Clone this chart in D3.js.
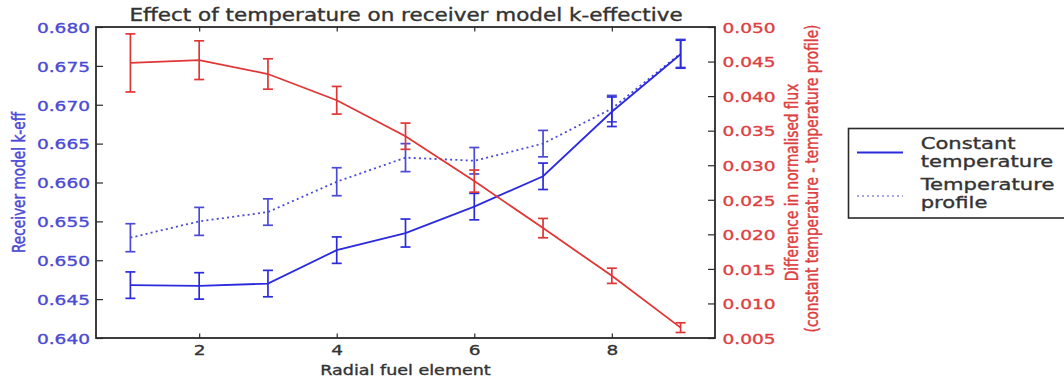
<!DOCTYPE html>
<html><head><meta charset="utf-8">
<script src="https://cdn.jsdelivr.net/npm/d3@7"></script>
<style>body{margin:0;background:#fff}svg{display:block}text{font-family:"DejaVu Sans",sans-serif;stroke-width:0.35px}</style>
</head><body>
<svg id="c" width="1064" height="383"></svg>
<script>
// ---- data ----
const elements = [1, 2, 3, 4, 5, 6, 7, 8, 9];
const kConstant = [0.6468, 0.6467, 0.6470, 0.6513, 0.6535, 0.6569, 0.6608, 0.6691, 0.6765];
const kConstantErr = [0.0017, 0.0017, 0.0017, 0.0017, 0.0018, 0.0017, 0.0017, 0.0019, 0.0018];
const kProfile = [0.6529, 0.6550, 0.6562, 0.6601, 0.6632, 0.6628, 0.6650, 0.6695, 0.6766];
const kProfileErr = [0.0018, 0.0018, 0.0017, 0.0018, 0.0018, 0.0017, 0.0017, 0.0017, 0.0018];
const fluxDiff = [0.0448, 0.0452, 0.0432, 0.0394, 0.0342, 0.0277, 0.0209, 0.0140, 0.0065];
const fluxDiffErr = [0.0042, 0.0028, 0.0022, 0.0020, 0.0019, 0.0016, 0.0014, 0.0011, 0.0007];
const xTicks = [2, 4, 6, 8];
const kTicks = [0.640, 0.645, 0.650, 0.655, 0.660, 0.665, 0.670, 0.675, 0.680];
const fluxTicks = [0.005, 0.010, 0.015, 0.020, 0.025, 0.030, 0.035, 0.040, 0.045, 0.050];
const seriesNames = ["Constant\ntemperature", "Temperature\nprofile"];

// ---- layout ----
const SX = 1.28;
const BLUE = "#2b2bdd", BLUE_T = "#4a4ad4", RED = "#e03636", RED_T = "#dd4040", DARK = "#2a2a2a";
const M = {l: 96, t: 27, r: 715, b: 338};
const svg = d3.select("#c");
const x = d3.scaleLinear().domain([0.5, 9.5]).range([M.l, M.r]);
const yK = d3.scaleLinear().domain([0.640, 0.680]).range([M.b, M.t]);
const yF = d3.scaleLinear().domain([0.005, 0.050]).range([M.b, M.t]);

function label(g, px, py, s, o) {
  return g.append("text")
    .attr("transform", `translate(${px},${py}) scale(${SX},1)${o.rot ? " rotate(-90)" : ""}`)
    .attr("text-anchor", o.anchor || "middle")
    .attr("font-size", o.size)
    .attr("fill", o.fill).attr("stroke", o.fill)
    .text(s);
}

// axes
const gB = svg.append("g").attr("transform", `translate(0,${M.b})`).attr("color", DARK)
  .call(d3.axisBottom(x).tickValues(xTicks).tickSize(-4.5).tickSizeOuter(0).tickFormat(d3.format("d")));
gB.selectAll("text").attr("y", null).attr("dy", null)
  .attr("transform", `translate(0,17) scale(${SX},1)`).attr("font-size", 14.5).attr("fill", "#333").attr("stroke", "#333").attr("font-family", null);
const gT = svg.append("g").attr("transform", `translate(0,${M.t})`).attr("color", DARK)
  .call(d3.axisTop(x).tickValues(xTicks).tickSize(-4.5).tickSizeOuter(0).tickFormat(""));
gT.selectAll("text").remove();
const gL = svg.append("g").attr("transform", `translate(${M.l},0)`).attr("color", DARK)
  .call(d3.axisLeft(yK).tickValues(kTicks).tickSize(-7).tickSizeOuter(0).tickFormat(d3.format(".3f")));
gL.selectAll("text").attr("x", null).attr("dy", null)
  .attr("transform", `translate(-6,5.3) scale(${SX},1)`).attr("font-size", 14.5).attr("fill", BLUE_T).attr("stroke", BLUE_T).attr("font-family", null);
const gR = svg.append("g").attr("transform", `translate(${M.r},0)`).attr("color", DARK)
  .call(d3.axisRight(yF).tickValues(fluxTicks).tickSize(-7).tickSizeOuter(0).tickFormat(d3.format(".3f")));
gR.selectAll("text").attr("x", null).attr("dy", null)
  .attr("transform", `translate(7.5,5.3) scale(${SX},1)`).attr("font-size", 14.5).attr("fill", RED_T).attr("stroke", RED_T).attr("font-family", null);
svg.selectAll(".domain").remove();
svg.selectAll(".tick line").attr("stroke-width", 1.2);

// series
function drawSeries(vals, errs, yS, color, dash) {
  const g = svg.append("g");
  const line = d3.line().x((d, i) => x(elements[i])).y(d => yS(d));
  g.append("path").datum(vals).attr("d", line).attr("fill", "none")
    .attr("stroke", color).attr("stroke-width", 1.8).attr("stroke-dasharray", dash || null);
  const eb = g.selectAll("g.eb").data(vals).join("g").attr("stroke", color).attr("stroke-width", 1.7);
  eb.append("line").attr("x1", (d, i) => x(elements[i])).attr("x2", (d, i) => x(elements[i]))
    .attr("y1", (d, i) => yS(d - errs[i])).attr("y2", (d, i) => yS(d + errs[i]));
  eb.append("line").attr("x1", (d, i) => x(elements[i]) - 5).attr("x2", (d, i) => x(elements[i]) + 5)
    .attr("y1", (d, i) => yS(d - errs[i])).attr("y2", (d, i) => yS(d - errs[i]));
  eb.append("line").attr("x1", (d, i) => x(elements[i]) - 5).attr("x2", (d, i) => x(elements[i]) + 5)
    .attr("y1", (d, i) => yS(d + errs[i])).attr("y2", (d, i) => yS(d + errs[i]));
}
drawSeries(kProfile, kProfileErr, yK, BLUE_T, "2,3.2");
drawSeries(kConstant, kConstantErr, yK, BLUE);
drawSeries(fluxDiff, fluxDiffErr, yF, RED);

// frame
svg.append("rect").attr("x", M.l).attr("y", M.t).attr("width", M.r - M.l).attr("height", M.b - M.t)
  .attr("fill", "none").attr("stroke", DARK).attr("stroke-width", 1.8);

// titles
label(svg, 406, 20.5, "Effect of temperature on receiver model k-effective", {size: 16.8, fill: "#333"});
label(svg, 405.5, 375, "Radial fuel element", {size: 13.7, fill: "#333"});
label(svg, 25, 182.5, "Receiver model k-eff", {size: 13.7, fill: BLUE_T, rot: true});
label(svg, 797.5, 182.5, "Difference in normalised flux", {size: 13.7, fill: RED_T, rot: true});
label(svg, 818, 178.5, "(constant temperature - temperature profile)", {size: 13.7, fill: RED_T, rot: true});

// legend
const lg = svg.append("g");
lg.append("rect").attr("x", 848.5).attr("y", 128.5).attr("width", 240).attr("height", 89.5)
  .attr("fill", "#fff").attr("stroke", DARK).attr("stroke-width", 1.6);
lg.append("line").attr("x1", 857).attr("x2", 903).attr("y1", 152.5).attr("y2", 152.5)
  .attr("stroke", BLUE).attr("stroke-width", 2);
lg.append("line").attr("x1", 857).attr("x2", 903).attr("y1", 196).attr("y2", 196)
  .attr("stroke", "#8a8ade").attr("stroke-width", 1.3).attr("stroke-dasharray", "2,3");
const lines0 = seriesNames[0].split("\n"), lines1 = seriesNames[1].split("\n");
label(lg, 920.7, 149, lines0[0], {size: 16.5, fill: "#333", anchor: "start"});
label(lg, 920.7, 166.5, lines0[1], {size: 16.5, fill: "#333", anchor: "start"});
label(lg, 920.7, 190, lines1[0], {size: 16.5, fill: "#333", anchor: "start"});
label(lg, 920.7, 207.5, lines1[1], {size: 16.5, fill: "#333", anchor: "start"});
</script>
</body></html>
